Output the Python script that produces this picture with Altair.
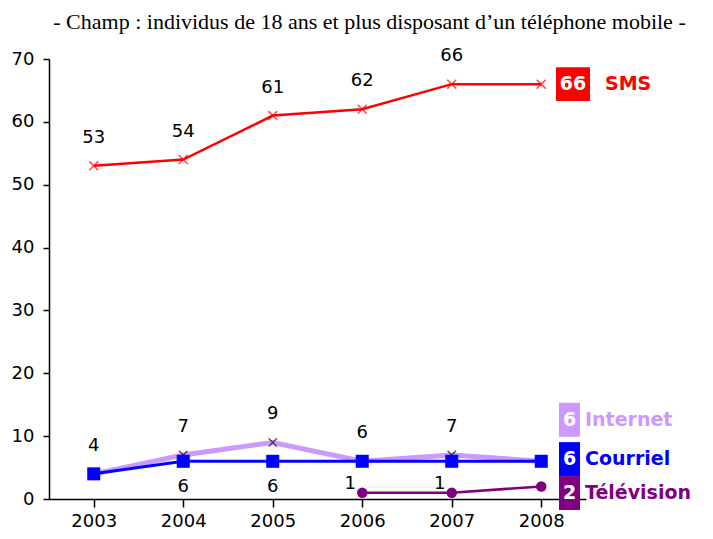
import altair as alt
import pandas as pd

years = ["2003", "2004", "2005", "2006", "2007", "2008"]
sms = [53, 54, 61, 62, 66, 66]
internet = [4, 7, 9, 6, 7, 6]
courriel = [4, 6, 6, 6, 6, 6]
television = [None, None, None, 1, 1, 2]

series_names = ["SMS", "Internet", "Courriel", "Télévision"]
series_colors = ["#FF0000", "#CC99FF", "#0000FF", "#800080"]
end_values = ["66", "6", "6", "2"]
end_label_y = [66, 12.6, 6.35, 0.95]

title_text = "- Champ : individus de 18 ans et plus disposant d\u2019un téléphone mobile -"

FONT = "DejaVu Sans"

def frame(vals, name):
    rows = [{"year": y, "value": v, "series": name} for y, v in zip(years, vals) if v is not None]
    return pd.DataFrame(rows)

df_sms = frame(sms, "SMS")
df_int = frame(internet, "Internet")
df_cou = frame(courriel, "Courriel")
df_tv = frame(television, "Télévision")

xs = alt.Scale(domain=years, paddingInner=0, paddingOuter=0)
ys = alt.Scale(domain=[0, 70], nice=False)

X = alt.X("year:O", scale=xs, axis=alt.Axis(title=None, labelAngle=0, bandPosition=0,
          tickSize=8, labelPadding=5, labelFontSize=18, labelFont=FONT, labelColor="black",
          domainColor="black", tickColor="black"))
Y = alt.Y("value:Q", scale=ys, axis=alt.Axis(title=None, values=list(range(0, 71, 10)),
          grid=False, tickSize=6, labelPadding=9, labelFontSize=18, labelFont=FONT,
          labelColor="black", domainColor="black", tickColor="black"))

XSHAPE = "M-1,-1L1,1M-1,1L1,-1"

def line(df, color, width):
    return alt.Chart(df).mark_line(color=color, strokeWidth=width).encode(x=X, y=Y)

layers = []
# Internet
layers.append(line(df_int, "#CC99FF", 5))
layers.append(alt.Chart(df_int).mark_point(shape=XSHAPE, size=70, color="black", filled=False,
                                           strokeWidth=1.3).encode(x=X, y=Y))
# Courriel
layers.append(line(df_cou, "#0000FF", 3))
layers.append(alt.Chart(df_cou).mark_point(shape="square", size=170, color="#0000FF", filled=True,
                                           opacity=1).encode(x=X, y=Y))
# SMS
layers.append(line(df_sms, "#FF0000", 2.5))
layers.append(alt.Chart(df_sms).mark_point(shape=XSHAPE, size=80, color="#FF0000", filled=False,
                                           strokeWidth=1.5).encode(x=X, y=Y))
# Télévision
layers.append(line(df_tv, "#800080", 2.5))
layers.append(alt.Chart(df_tv).mark_point(shape="circle", size=110, color="#800080", filled=True,
                                          opacity=1).encode(x=X, y=Y))

# data labels
def labels(df, dy, dx=0):
    return alt.Chart(df).mark_text(font=FONT, fontSize=18, color="black", dy=dy, dx=dx).encode(
        x=X, y=Y, text=alt.Text("value:Q"))

layers.append(labels(df_sms.iloc[:5], -28))
layers.append(labels(df_int.iloc[:5], -28))
layers.append(labels(df_cou.iloc[1:3], 26))
layers.append(labels(df_tv.iloc[:2], -9, -12))

# end boxes
box_df = pd.DataFrame({"series": series_names, "color": series_colors, "num": end_values,
                       "y": end_label_y})
box_df["lo"] = box_df["y"] - 2.7
box_df["hi"] = box_df["y"] + 2.7

for i, name in enumerate(series_names):
    sub = box_df.iloc[[i]]
    wide = len(end_values[i]) > 1
    x0, x1 = (507, 541) if wide else (510, 531)
    xc = (x0 + x1) / 2
    layers.append(alt.Chart(sub).mark_rect(color=series_colors[i]).encode(
        x=alt.value(x0), x2=alt.value(x1),
        y=alt.Y("lo:Q", scale=ys), y2="hi:Q"))
    layers.append(alt.Chart(sub).mark_text(font=FONT, fontSize=19, fontWeight="bold",
                                           color="white").encode(
        x=alt.value(xc), y=alt.Y("y:Q", scale=ys), text="num:N"))
    layers.append(alt.Chart(sub).mark_text(font=FONT, fontSize=19, fontWeight="bold",
                                           color=series_colors[i], align="left").encode(
        x=alt.value(556 if wide else 536), y=alt.Y("y:Q", scale=ys), text="series:N"))

chart = alt.layer(*layers).properties(
    width=537, height=440,
    autosize=alt.AutoSizeParams(type="none"),
    padding={"left": 41, "top": 51, "right": 115, "bottom": 32},
    title=alt.TitleParams(title_text, font="Liberation Serif", fontSize=22, fontWeight="normal",
                          color="black", anchor="middle", dx=52, offset=13),
).configure_view(stroke=None).configure_axis(domainWidth=1.5, tickWidth=1.5)

chart.save("out.html", embed_options={"renderer": "svg", "actions": False})
